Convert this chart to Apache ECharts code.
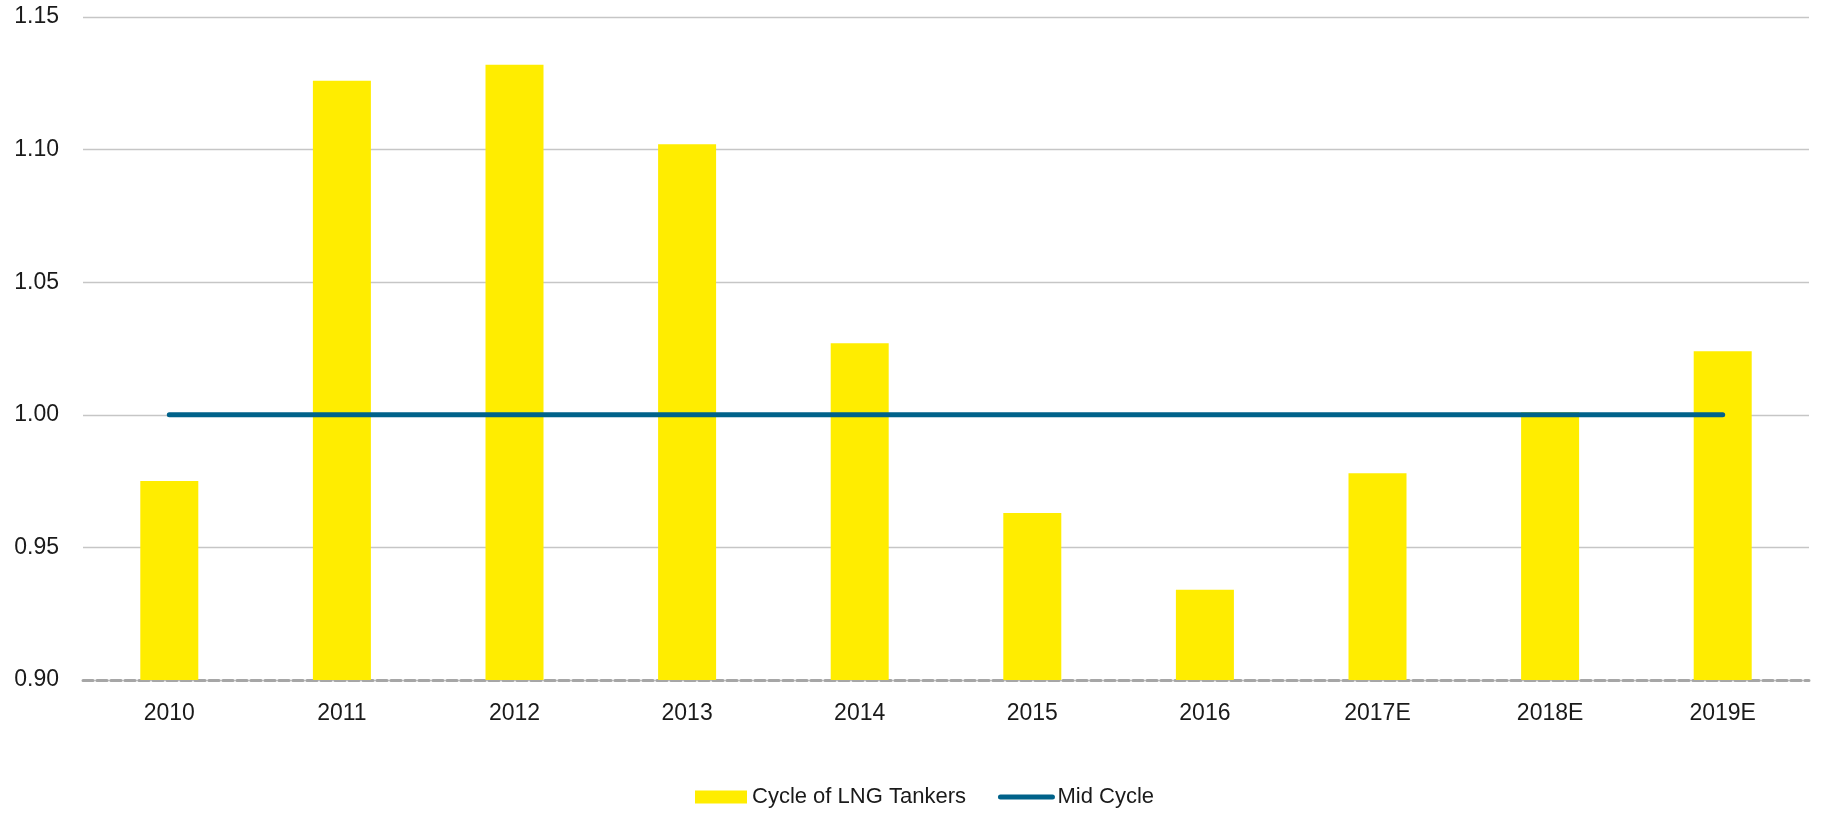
<!DOCTYPE html>
<html>
<head>
<meta charset="utf-8">
<script src="https://cdn.jsdelivr.net/npm/echarts@6/dist/echarts.min.js"></script>
<style>
  html, body { margin: 0; padding: 0; background: #fff; }
  #main { width: 1839px; height: 815px; }
</style>
</head>
<body>
<div id="main"></div>
<script>
  var years = ['2010', '2011', '2012', '2013', '2014', '2015', '2016', '2017E', '2018E', '2019E'];
  var cycleValues = [0.975, 1.126, 1.132, 1.102, 1.027, 0.963, 0.934, 0.978, 1.001, 1.024];
  var midCycle = [1, 1, 1, 1, 1, 1, 1, 1, 1, 1];

  var font = "'Liberation Sans Narrow', 'Arial Narrow', 'Liberation Sans', sans-serif";
  var textColor = '#1a1a1a';
  var lineColor = '#00628a';

  var chart = echarts.init(document.getElementById('main'));
  chart.setOption({
    backgroundColor: '#fff',
    textStyle: { fontFamily: font },
    animation: false,
    grid: { left: 83, right: 30, top: 17, bottom: 135 },
    legend: {
      top: 781,
      left: 690,
      itemWidth: 52,
      itemHeight: 13,
      itemGap: 32,
      textStyle: { fontSize: 22, color: textColor, fontFamily: font },
      data: [
        { name: 'Cycle of LNG Tankers', icon: 'rect' },
        {
          name: 'Mid Cycle',
          itemStyle: { color: 'rgba(0,0,0,0)', borderWidth: 0 },
          lineStyle: { color: lineColor, width: 5, cap: 'round' }
        }
      ]
    },
    xAxis: {
      type: 'category',
      data: years,
      axisTick: { show: false },
      axisLine: {
        lineStyle: { color: '#a6a6a6', width: 3, type: [10, 4] }
      },
      axisLabel: { fontSize: 23, color: textColor, margin: 22, fontFamily: font }
    },
    yAxis: {
      type: 'value',
      min: 0.9,
      max: 1.15,
      interval: 0.05,
      axisLine: { show: false },
      axisTick: { show: false },
      axisLabel: {
        fontSize: 23,
        color: textColor,
        margin: 24,
        fontFamily: font,
        formatter: function (v) { return v.toFixed(2); }
      },
      splitLine: { lineStyle: { color: '#c6c6c6', width: 1.3 } }
    },
    series: [
      {
        name: 'Cycle of LNG Tankers',
        type: 'bar',
        barWidth: 58,
        itemStyle: { color: '#ffed00' },
        data: cycleValues
      },
      {
        name: 'Mid Cycle',
        type: 'line',
        symbol: 'none',
        lineStyle: { color: lineColor, width: 5, cap: 'round' },
        itemStyle: { color: lineColor },
        data: midCycle
      }
    ]
  });
</script>
</body>
</html>
